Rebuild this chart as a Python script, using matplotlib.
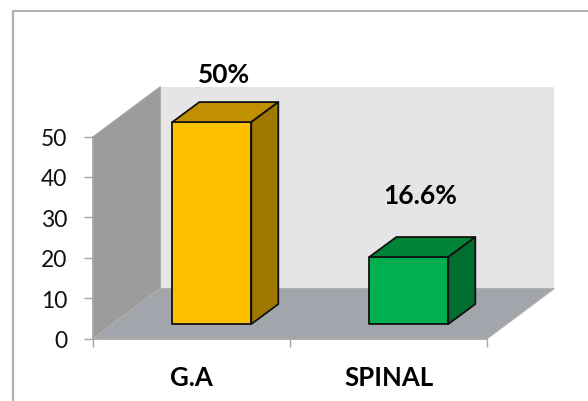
import matplotlib
matplotlib.use("Agg")
import matplotlib.pyplot as plt
from matplotlib.lines import Line2D
from matplotlib.patches import Polygon

categories = ["G.A", "SPINAL"]
values = [50, 16.6]
value_labels = ["50%", "16.6%"]
y_ticks = [0, 10, 20, 30, 40, 50]

front_colors = ["#FFC000", "#00B050"]
top_colors = ["#C09000", "#008437"]
side_colors = ["#A07800", "#006E2E"]

W, H = 588, 402
plt.rcParams["font.family"] = ["Lato", "DejaVu Sans"]

fig = plt.figure(figsize=(W / 100, H / 100), dpi=100)
fig.patch.set_facecolor("white")

# outer chart frame, only the top and left edges are in view
fig.add_artist(Line2D([12.5 / W, 1], [1 - 11.5 / H, 1 - 11.5 / H], color="#9A9A9A", lw=1.1))
fig.add_artist(Line2D([12.5 / W, 12.5 / W], [0, 1 - 11.5 / H], color="#B0B0B0", lw=1.6))

# plot area runs 93..487 px across and 137..339 px down
ax = fig.add_axes([93.3 / W, 1 - 339.6 / H, 394 / W, 202 / H])
ax.set_xlim(-0.5, 1.5)
ax.set_ylim(0, 50)
ax.patch.set_visible(False)

# depth of the box, in data units
wall_dx = 67 / 197
wall_dy = 50 / 4.04
bar_dx = 27 / 197
bar_dy = 20 / 4.04
bar_w = 79 / 197
bar_shift = 20 / 197
bar_base = 14.5 / 4.04

x0, x1 = ax.get_xlim()
y1 = ax.get_ylim()[1]

wall_top = y1 + wall_dy
ax.add_patch(Polygon([(x0 + wall_dx, wall_dy), (x1 + wall_dx, wall_dy), (x1 + wall_dx, wall_top), (x0 + wall_dx, wall_top)],
                     fc="#E5E5E5", ec="none", clip_on=False, zorder=1))
ax.add_patch(Polygon([(x0, 0), (x0 + wall_dx, wall_dy), (x0 + wall_dx, wall_top), (x0, y1)],
                     fc="#9C9C9C", ec="#A8A8A8", lw=0.8, clip_on=False, zorder=1))
ax.add_patch(Polygon([(x0, 0), (x1, 0), (x1 + wall_dx, wall_dy), (x0 + wall_dx, wall_dy)],
                     fc="#A3A5AC", ec="#B0B0B0", lw=0.8, clip_on=False, zorder=1))

for i, v in enumerate(values):
    left = i + bar_shift - bar_w / 2
    right = left + bar_w
    bottom = bar_base
    top = bar_base + v
    ec = dict(ec="#111111", lw=1.3, joinstyle="round", clip_on=False, zorder=3)
    ax.add_patch(Polygon([(left, bottom), (right, bottom), (right, top), (left, top)], fc=front_colors[i], **ec))
    ax.add_patch(Polygon([(left, top), (right, top), (right + bar_dx, top + bar_dy), (left + bar_dx, top + bar_dy)],
                         fc=top_colors[i], **ec))
    ax.add_patch(Polygon([(right, bottom), (right + bar_dx, bottom + bar_dy), (right + bar_dx, top + bar_dy), (right, top)],
                         fc=side_colors[i], **ec))

# value labels sit well above each bar
label_gap = [(0.063, 6.9), (0.058, 10.5)]
for i, v in enumerate(values):
    ax.text(i + bar_shift + label_gap[i][0], bar_base + v + bar_dy + label_gap[i][1], value_labels[i],
            ha="center", va="center", fontsize=19, fontweight="bold", color="black", clip_on=False, zorder=4)

for s in ["top", "right"]:
    ax.spines[s].set_visible(False)
for s in ["left", "bottom"]:
    ax.spines[s].set_color("#A6A6A6")
    ax.spines[s].set_linewidth(1.2)

ax.set_yticks(y_ticks)
ax.set_xticks([-0.5, 0.5, 1.5])
ax.set_xticklabels([])
ax.tick_params(axis="y", length=6.5, width=1, color="#A6A6A6", labelsize=16.5, pad=12, labelcolor="#111111")
ax.tick_params(axis="x", length=6, width=1, color="#A6A6A6")

for i, name in enumerate(categories):
    ax.text(i, -9.6, name, ha="center", va="center", fontsize=18.5, fontweight="bold", color="black", clip_on=False)

fig.savefig("out.png", dpi=100)
